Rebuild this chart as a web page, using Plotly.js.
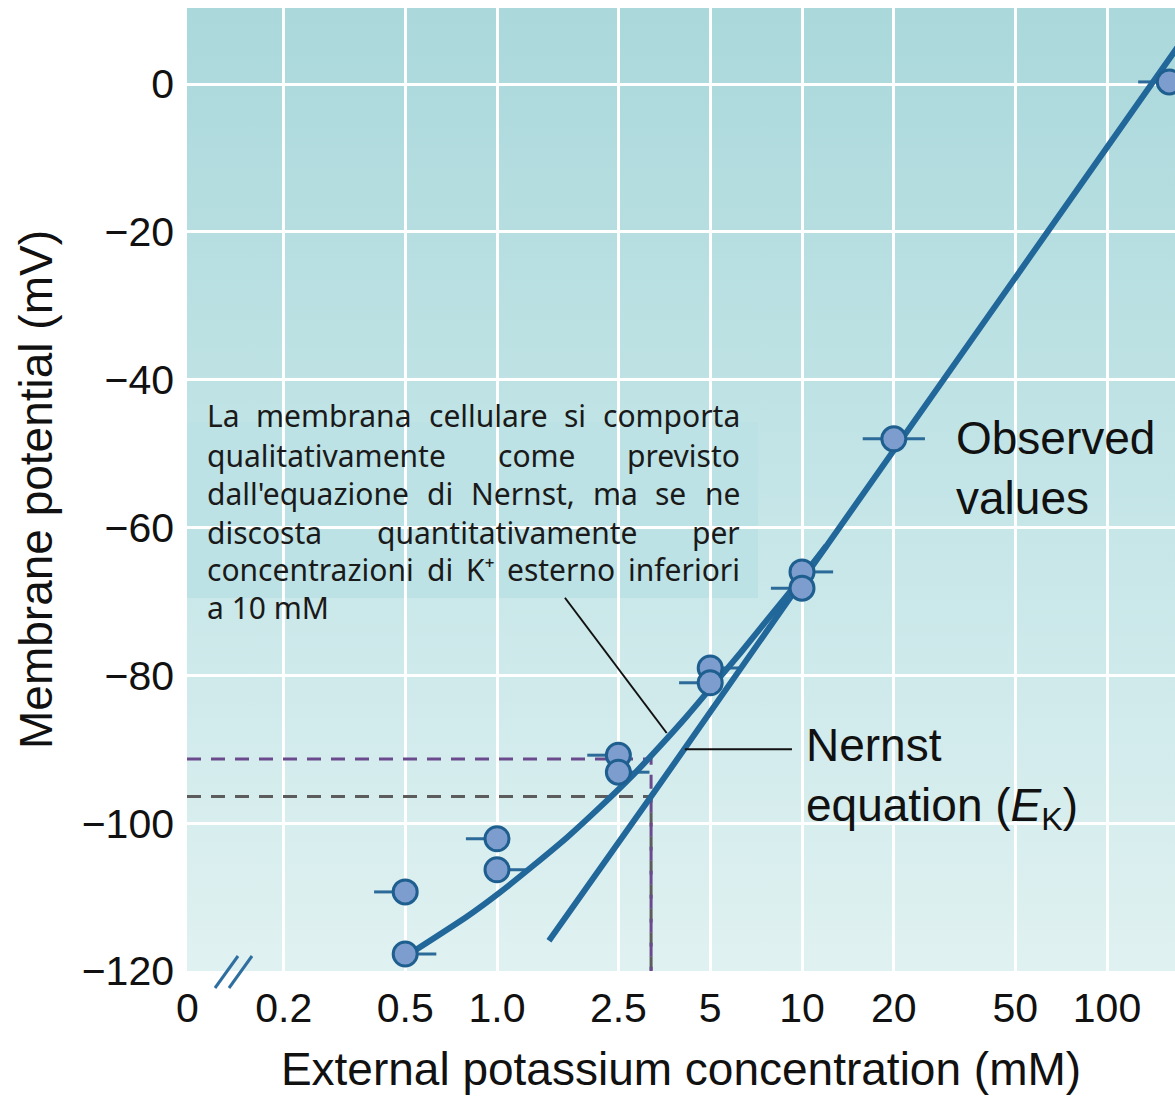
<!DOCTYPE html>
<html>
<head>
<meta charset="utf-8">
<script src="https://cdn.plot.ly/plotly-3.0.1.min.js"></script>
<style>
html,body{margin:0;padding:0;background:#ffffff;}
#chart{width:1175px;height:1097px;}
</style>
</head>
<body>
<div id="chart"></div>
<script>
// ---------------- data ----------------
const xTickVals = [0.2, 0.5, 1.0, 2.5, 5, 10, 20, 50, 100];
const xTickText = ['0.2', '0.5', '1.0', '2.5', '5', '10', '20', '50', '100'];
const yTickVals = [-120, -100, -80, -60, -40, -20, 0];

// observed values (mM, mV) and side of the short horizontal bar (-1 left, 1 right, 0 both)
const obsX = [0.5, 0.5, 1.0, 1.0, 2.5, 2.5, 5, 5, 10, 10, 20, 160];
const obsY = [-109.3, -117.7, -102.1, -106.3, -90.8, -93.1, -79.0, -81.0, -66.0, -68.2, -48.0, 0.3];
const obsBarSide = [-1, 1, -1, 1, -1, 1, 1, -1, 1, -1, 0, -1];

// curve through the observed values
const fitX = [0.53, 0.80, 1.02, 1.31, 1.70, 2.18, 2.79, 3.42, 4.2, 5.0, 6.3, 8.0, 10.0, 12.0];
const fitY = [-117.4, -112.6, -109.4, -105.8, -101.9, -97.8, -93.5, -89.6, -85.5, -81.8, -76.9, -71.6, -66.7, -62.5];

// Nernst equation (E_K)
const nernstX = [1.48, 3.2, 10, 100, 200];
const nernstY = [-115.9, -96.4, -67.2, -8.6, 9.1];

// dashed reference lines
const dashK = 3.2;
const dashObserved = -91.3;
const dashNernst = -96.4;

// leader lines
const leaderObsX = [1.67, 3.6];
const leaderObsY = [-69.5, -87.8];
const leaderNernstX = [4.13, 9.27];
const leaderNernstY = [-90.0, -90.0];

const noteLines = [
  ['La', 'membrana', 'cellulare', 'si', 'comporta'],
  ['qualitativamente', 'come', 'previsto'],
  ["dall'equazione", 'di', 'Nernst,', 'ma', 'se', 'ne'],
  ['discosta', 'quantitativamente', 'per'],
  ['concentrazioni', 'di', 'K\u207A', 'esterno', 'inferiori'],
  ['a 10 mM']
];

// ---------------- layout helpers ----------------
const W = 1175, H = 1097;
const M = {l: 187, r: 0, t: 8, b: 126};
const plotW = W - M.l - M.r, plotH = H - M.t - M.b;
const xRangeLog = [-1.0164, 2.2229];
const yRange = [-120, 10.3];
const px2x = px => (px - M.l) / plotW;
const py2y = py => (H - M.b - py) / plotH;

const blue = '#22679a';
const tickFont = {family: 'Liberation Sans, Arial, sans-serif', size: 41, color: '#111111'};
const bigFont = {family: 'Liberation Sans, Arial, sans-serif', size: 46, color: '#111111'};

// short horizontal bars at each observed point
const barF = Math.pow(10, 0.102);
const barX = [], barY = [];
obsX.forEach((x, i) => {
  const s = obsBarSide[i];
  const a = s > 0 ? x : x / barF;
  const b = s < 0 ? x : x * barF;
  barX.push(a, b, null);
  barY.push(obsY[i], obsY[i], null);
});

const xMinVal = Math.pow(10, xRangeLog[0]);

const traces = [
  {x: [xMinVal, dashK, dashK], y: [dashNernst, dashNernst, yRange[0]], mode: 'lines',
   line: {color: '#5c5c5c', width: 3, dash: '14px,10px'}},
  {x: [xMinVal, dashK, dashK], y: [dashObserved, dashObserved, yRange[0]], mode: 'lines',
   line: {color: '#6a4a8c', width: 3, dash: '14px,10px'}},
  {x: barX, y: barY, mode: 'lines', line: {color: '#2b6a99', width: 3}, connectgaps: false},
  {x: nernstX, y: nernstY, mode: 'lines', line: {color: blue, width: 6}},
  {x: fitX, y: fitY, mode: 'lines', line: {color: blue, width: 6, shape: 'spline', smoothing: 0.6}},
  {x: leaderObsX, y: leaderObsY, mode: 'lines', line: {color: '#111111', width: 2}},
  {x: leaderNernstX, y: leaderNernstY, mode: 'lines', line: {color: '#111111', width: 2}},
  {x: obsX, y: obsY, mode: 'markers',
   marker: {size: 24, color: '#7d9dcf', line: {color: '#1e5f8f', width: 3}}}
];

// ---------------- note text (justified after measuring) ----------------
const noteFamily = '"Noto Sans", "Open Sans", sans-serif';
const noteSize0 = 28;
const noteMax = 30;
const noteLeft = 207, noteRight = 740;
const noteYs = [415, 455, 493, 532, 570, 607];
const noteIdx = [];
const annotations = [];
noteLines.forEach((words, li) => {
  const row = [];
  words.forEach(w => {
    row.push(annotations.length);
    annotations.push({xref: 'paper', yref: 'paper', x: px2x(noteLeft), y: py2y(noteYs[li]),
      xanchor: 'left', yanchor: 'middle', text: w, showarrow: false, borderpad: 0, borderwidth: 0,
      font: {family: noteFamily, size: noteSize0, color: '#1a1a1a'}});
  });
  noteIdx.push(row);
});

annotations.push(
  {xref: 'paper', yref: 'paper', x: px2x(954), y: py2y(468), xanchor: 'left', yanchor: 'middle',
   text: 'Observed<br>values', align: 'left', showarrow: false, font: bigFont},
  {xref: 'paper', yref: 'paper', x: px2x(804), y: py2y(778), xanchor: 'left', yanchor: 'middle',
   text: 'Nernst<br>equation (<i>E</i><sub>K</sub>)', align: 'left', showarrow: false, font: bigFont},
  {xref: 'paper', yref: 'paper', x: 0, y: py2y(1008), xanchor: 'center', yanchor: 'middle',
   text: '0', showarrow: false, font: tickFont}
);

const bgSvg = '<svg xmlns="http://www.w3.org/2000/svg" width="100" height="100" viewBox="0 0 100 100" preserveAspectRatio="none">' +
  '<defs><linearGradient id="g" x1="0" y1="0" x2="0" y2="1">' +
  '<stop offset="0" stop-color="#aad8db"/><stop offset="0.5" stop-color="#c4e5e7"/><stop offset="1" stop-color="#e0f1f1"/>' +
  '</linearGradient></defs><rect width="100" height="100" fill="url(#g)"/></svg>';

const shapes = [
  {type: 'rect', xref: 'paper', yref: 'paper', x0: 0, x1: px2x(758), y0: py2y(598), y1: py2y(422),
   fillcolor: '#bde2e5', line: {width: 0}, layer: 'between'},
  {type: 'line', xref: 'paper', yref: 'paper', x0: px2x(215), y0: py2y(988), x1: px2x(238), y1: py2y(956),
   line: {color: '#2f6f9f', width: 3}},
  {type: 'line', xref: 'paper', yref: 'paper', x0: px2x(229), y0: py2y(988), x1: px2x(252), y1: py2y(956),
   line: {color: '#2f6f9f', width: 3}}
];

const layout = {
  width: W, height: H,
  margin: M,
  paper_bgcolor: '#ffffff',
  plot_bgcolor: '#c4e5e7',
  showlegend: false,
  hovermode: false,
  xaxis: {
    type: 'log', range: xRangeLog, tickvals: xTickVals, ticktext: xTickText,
    showgrid: true, gridcolor: '#ffffff', gridwidth: 3, zeroline: false, showline: false,
    ticks: '', ticklabelstandoff: 9, tickfont: tickFont,
    title: {text: 'External potassium concentration (mM)', font: bigFont, standoff: 22}
  },
  yaxis: {
    range: yRange, tickvals: yTickVals,
    showgrid: true, gridcolor: '#ffffff', gridwidth: 3, zeroline: false, showline: false,
    ticks: '', ticklabelstandoff: 12, tickfont: tickFont,
    title: {text: 'Membrane potential (mV)', font: bigFont, standoff: 14}
  },
  images: [{source: 'data:image/svg+xml;charset=utf-8,' + encodeURIComponent(bgSvg),
    xref: 'paper', yref: 'paper', x: 0, y: 1, sizex: 1, sizey: 1,
    xanchor: 'left', yanchor: 'top', sizing: 'stretch', layer: 'below'}],
  shapes: shapes,
  annotations: annotations
};

function textWidth(gd, i) {
  const t = gd.querySelector('g.annotation[data-index="' + i + '"] text.annotation-text') ||
            gd.querySelector('g.annotation[data-index="' + i + '"] text');
  if (!t) return 0;
  let w = 0;
  try { w = t.getBBox().width; } catch (e) { w = 0; }
  return w;
}

async function justify(gd) {
  let size = noteSize0;
  for (let pass = 0; pass < 3; pass++) {
    const w = noteIdx.map(row => row.map(i => textWidth(gd, i)));
    const line5 = w[4].reduce((a, b) => a + b, 0);
    if (!(line5 > 0)) return;
    const perPx = line5 / size;
    let newSize = (noteRight - noteLeft - 2) / (perPx + 4 * 0.26);
    newSize = Math.min(newSize, noteMax);
    const k = newSize / size;
    const ann = gd.layout.annotations.map(a => Object.assign({}, a));
    noteIdx.forEach((row, li) => {
      const ws = w[li].map(v => v * k);
      const total = ws.reduce((a, b) => a + b, 0);
      const gap = row.length > 1 ? (noteRight - noteLeft - total) / (row.length - 1) : 0;
      let xp = noteLeft;
      row.forEach((idx, wi) => {
        ann[idx].x = px2x(xp);
        ann[idx].font = Object.assign({}, ann[idx].font, {size: newSize});
        xp += ws[wi] + gap;
      });
    });
    size = newSize;
    await Plotly.relayout(gd, {annotations: ann});
  }
}

(async () => {
  try { if (document.fonts && document.fonts.load) { await document.fonts.load('28px "Noto Sans"'); } } catch (e) {}
  const gd = await Plotly.newPlot('chart', traces, layout, {staticPlot: true, displayModeBar: false});
  await justify(gd);
})();
</script>
</body>
</html>
